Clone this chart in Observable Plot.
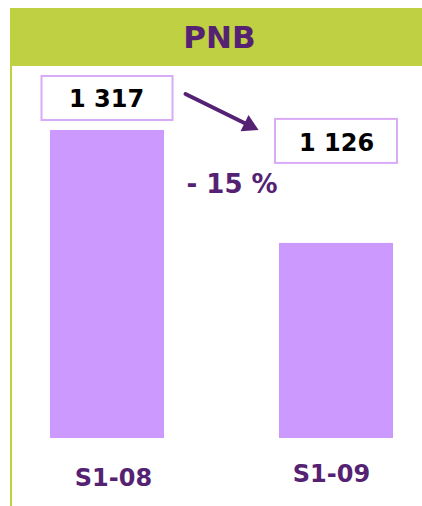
<!DOCTYPE html>
<html>
<head>
<meta charset="utf-8">
<script src="https://cdn.jsdelivr.net/npm/d3@7"></script>
<script src="https://cdn.jsdelivr.net/npm/@observablehq/plot@0.6"></script>
<style>
  html, body { margin: 0; padding: 0; background: #ffffff; }
  #wrap { position: relative; width: 422px; height: 506px; overflow: hidden; font-family: "DejaVu Sans", Verdana, sans-serif; }
  #title { position: absolute; left: 10px; top: 8px; width: 412px; height: 58px; background: #bfd042;
           color: #552273; font-weight: bold; font-size: 31px; line-height: 58px; text-align: center; text-indent: 7px; }
  #edge { position: absolute; left: 10px; top: 66px; width: 2px; height: 440px; background: #bfd042; }
  #chart { position: absolute; left: 0; top: 66px; }
</style>
</head>
<body>
<div id="wrap">
  <div id="title"></div>
  <div id="chart"></div>
  <div id="edge"></div>
</div>
<script>
// ---- data ----
const chartTitle = "PNB";
const categories = ["S1-08", "S1-09"];
const values = [1317, 1126];
const yMin = 796; // truncated value axis start

// ---- derived table ----
const data = categories.map((c, i) => ({cat: c, v: values[i]}));
const fmt = d3.formatLocale({decimal: ",", thousands: " ", grouping: [3], currency: ["", " €"]}).format(",d");
const pct = Math.round((values[1] - values[0]) / values[0] * 100);
const pctLabel = (pct < 0 ? "- " : "+ ") + Math.abs(pct) + " %";
const link = [{a: categories[0], b: categories[1], va: values[0], vb: values[1]}];

const purple = "#552273";
const barColor = "#cc99ff";
const boxColor = "#d9aaf6";

document.getElementById("title").textContent = chartTitle;

// annotation placement (pixels)
const boxInset = [-8.5, -4];
const boxDy = [-32, -102];
const textDy = [-31, -100];
const labelDx = [6, -5];
const labelDy = [40, 36];

const marks = [
  Plot.barY(data, {x: "cat", y1: yMin, y2: "v", fill: barColor})
];
data.forEach((d, i) => {
  marks.push(Plot.barY([d], {x: "cat", y1: "v", y2: "v", insetTop: -22, insetBottom: -22,
    insetLeft: boxInset[i], insetRight: boxInset[i], dy: boxDy[i], fill: "white", stroke: boxColor, strokeWidth: 2}));
  marks.push(Plot.text([d], {x: "cat", y: "v", text: r => fmt(r.v), dy: textDy[i], dx: i === 0 ? -1 : 0,
    fontSize: 24, fontWeight: "bold", fill: "#000000"}));
  marks.push(Plot.text([d], {x: "cat", y: yMin, text: "cat", dx: labelDx[i], dy: labelDy[i],
    fontSize: 24, fontWeight: "bold", fill: purple}));
});
marks.push(Plot.arrow(link, {x1: "a", y1: "va", x2: "b", y2: "vb", dy: -75, insetStart: 87, insetEnd: 97,
  headLength: 0, stroke: purple, strokeWidth: 4}));
marks.push(Plot.dot([data[1]], {x: "cat", y: "v", dx: -87.3, dy: -117.9, r: 6.7, symbol: "triangle",
  rotate: 116.2, fill: purple, stroke: "none"}));
marks.push(Plot.text([data[0]], {x: "cat", y: "v", text: () => pctLabel, dx: 79, dy: 54, textAnchor: "start",
  fontSize: 26, fontWeight: "bold", fill: purple}));

const chart = Plot.plot({
  width: 422,
  height: 440,
  marginLeft: 20,
  marginRight: 0,
  marginTop: 64,
  marginBottom: 68,
  style: {fontFamily: "DejaVu Sans, Verdana, sans-serif", background: "transparent", overflow: "visible"},
  x: {domain: categories, paddingInner: 0.5043, paddingOuter: 0.1261, axis: null},
  y: {domain: [yMin, values[0]], axis: null},
  marks
});
document.getElementById("chart").appendChild(chart);
</script>
</body>
</html>
